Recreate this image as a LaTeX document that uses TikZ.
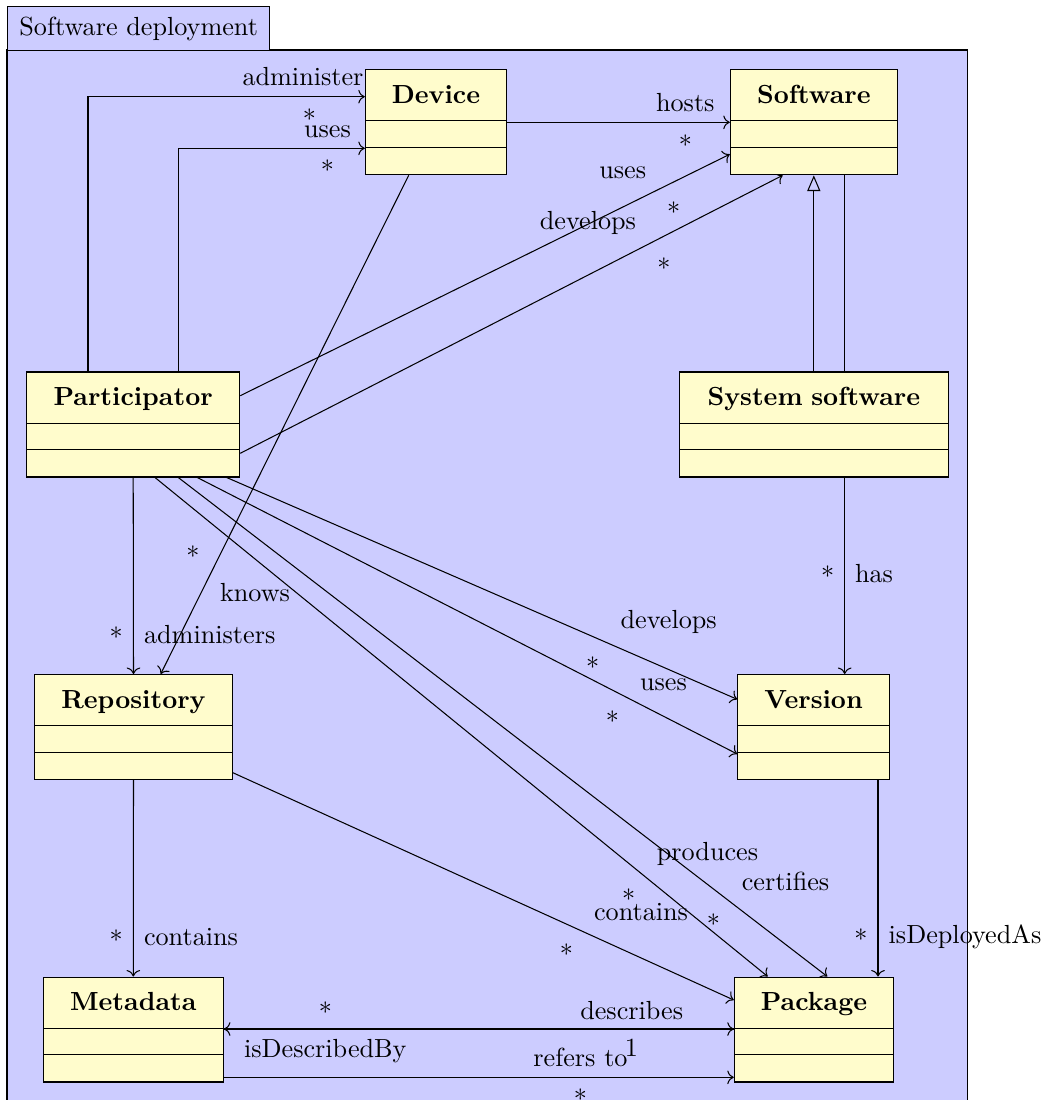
\documentclass[tikz,border=0pt]{standalone}
\usetikzlibrary{shapes.multipart,arrows.meta}
\pgfdeclarelayer{frame}
\pgfdeclarelayer{edges}
\pgfsetlayers{frame,edges,main}
\colorlet{framefill}{blue!20}
\colorlet{classfill}{yellow!20}
\tikzset{
  umlclass/.style={rectangle split, rectangle split parts=3, draw=black, fill=classfill,
    inner xsep=0pt, inner ysep=0pt, anchor=north, align=center, font=\bfseries},
  lbl/.style={anchor=base, inner sep=0pt},
  mult/.style={anchor=north, inner sep=0pt},
  assoc/.style={draw=black, ->},
  gen/.style={draw=black, -{Triangle[open,length=6pt,width=5pt]}},
}
\newcommand{\clsname}[1]{\rule[-6.5pt]{0pt}{19.1pt}#1\nodepart{two}\rule{0pt}{9.8pt}\nodepart{three}\rule{0pt}{10.0pt}}
\begin{document}
\begin{tikzpicture}[x=0.382pt,y=-0.382pt]
\useasboundingbox (0,0) rectangle (1048,1100);
% classes
\node[umlclass, text width=54.0pt] (dev) at (436,69.3) {\clsname{Device}};
\node[umlclass, text width=63.8pt] (sw) at (813.8,69.3) {\clsname{Software}};
\node[umlclass, text width=81.4pt] (par) at (133.2,371.5) {\clsname{Participator}};
\node[umlclass, text width=102.8pt] (sys) at (813.8,371.5) {\clsname{System software}};
\node[umlclass, text width=75.5pt] (rep) at (133.5,674) {\clsname{Repository}};
\node[umlclass, text width=57.9pt] (ver) at (813.5,674) {\clsname{Version}};
\node[umlclass, text width=68.8pt] (meta) at (133.3,976.5) {\clsname{Metadata}};
\node[umlclass, text width=60.9pt] (pkg) at (814,976.5) {\clsname{Package}};
% frame
\begin{pgfonlayer}{frame}
\filldraw[fill=framefill, draw=black] (7,50) rectangle (967.3,1104);
\end{pgfonlayer}
\node[draw=black, fill=framefill, anchor=north west, minimum width=100.2pt, minimum height=16.8pt, inner sep=0pt] (title) at (7,6) {Software deployment};
% connectors
\begin{pgfonlayer}{edges}
\draw[assoc] (par.north -| 88,0) |- (dev.west |- 0,96.7);
\draw[assoc] (par.north -| 178.3,0) |- (dev.west |- 0,148.3);
\draw[assoc] (dev.east |- 0,122.3) -- (sw.west |- 0,122.3);
\draw[assoc] (par.east |- 0,395.7) -- (sw.west |- 0,154.3);
\draw[assoc] (par.east |- 0,453.3) -- (sw.south -| 782.7,0);
\draw[assoc] (dev.south -| 408.7,0) -- (rep.north -| 160.7,0);
\draw[assoc] (par.south) -- (rep.north);
\draw[assoc] (par.south -| 226.7,0) -- (ver.west |- 0,699.3);
\draw[assoc] (par.south -| 197.3,0) -- (ver.west |- 0,754);
\draw[assoc] (par.south -| 155,0) -- (pkg.north -| 767.7,0);
\draw[assoc] (par.south -| 178.3,0) -- (pkg.north -| 827.3,0);
\draw[assoc] (rep.east |- 0,772.7) -- (pkg.west |- 0,1000);
\draw[assoc] (rep.south) -- (meta.north);
\draw[gen] (sys.north) -- (sw.south);
\draw[assoc] (sw.south -| 844.7,0) -- (ver.north -| 844.7,0);
\draw[assoc] (ver.south -| 878,0) -- (pkg.north -| 878,0);
\draw[assoc] (meta.east |- 0,1029) -- (pkg.west |- 0,1029);
\draw[assoc] (pkg.west |- 0,1029) -- (meta.east |- 0,1029);
\draw[assoc] (meta.east |- 0,1077.3) -- (pkg.west |- 0,1077.3);
\end{pgfonlayer}
% labels
\node[lbl] (l1) at (303,86) {administer};
\node[lbl] (l2) at (327.5,137.3) {uses};
\node[lbl] (l3) at (685.3,111.7) {hosts};
\node[lbl] (l4) at (622.7,179) {uses};
\node[lbl] (l5) at (587.9,229.5) {develops};
\node[lbl] (l6) at (255,601.7) {knows};
\node[lbl] (l7) at (209.7,643.3) {administers};
\node[lbl] (l8) at (874,582.7) {has};
\node[lbl] (l9) at (668.7,628.3) {develops};
\node[lbl] (l10) at (663.5,690) {uses};
\node[lbl] (l11) at (191,945) {contains};
\node[lbl] (l12) at (325.3,1057.7) {isDescribedBy};
\node[lbl] (l13) at (707.5,860) {produces};
\node[lbl] (l14) at (785.5,890) {certifies};
\node[lbl] (l15) at (641,920.7) {contains};
\node[lbl] (l16) at (965,943.3) {isDeployedAs};
\node[lbl] (l17) at (631.7,1019) {describes};
\node[lbl] (l18) at (580.5,1066.7) {refers to};
\node[lbl] (l19) at (631.3,1056.7) {1};
% multiplicities
\node[mult] (m1) at (309.5,108.3) {*};
\node[mult] (m2) at (327.3,159.3) {*};
\node[mult] (m3) at (685.3,134.3) {*};
\node[mult] (m4) at (673.7,201) {*};
\node[mult] (m5) at (663.8,257.3) {*};
\node[mult] (m6) at (192.8,545) {*};
\node[mult] (m7) at (116.2,626.7) {*};
\node[mult] (m8) at (827.7,565.7) {*};
\node[mult] (m9) at (592.7,656.7) {*};
\node[mult] (m10) at (612.3,710.7) {*};
\node[mult] (m11) at (628.7,888.3) {*};
\node[mult] (m12) at (713.3,913.3) {*};
\node[mult] (m13) at (566.3,943.3) {*};
\node[mult] (m14) at (860.8,928.3) {*};
\node[mult] (m15) at (116.2,929.3) {*};
\node[mult] (m16) at (325.5,1001) {*};
\node[mult] (m17) at (580.3,1088) {*};
\end{tikzpicture}
\end{document}
